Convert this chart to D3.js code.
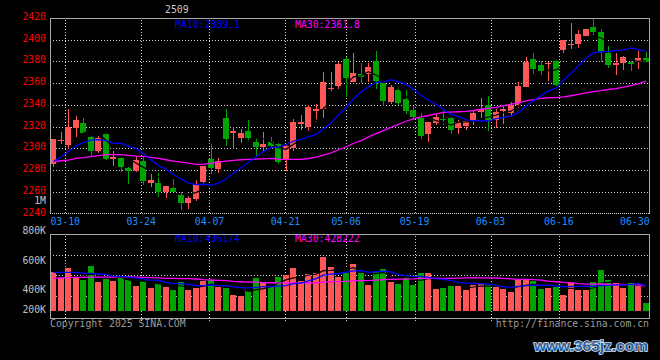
<!DOCTYPE html>
<html><head><meta charset="utf-8">
<script src="https://cdn.jsdelivr.net/npm/d3@7"></script>
<style>html,body{margin:0;padding:0;background:#000;} svg{display:block;}</style>
</head><body>
<script>
// ---------- DATA ----------
const dates = ["03-06","03-07","03-10","03-11","03-12","03-13","03-14","03-17","03-18","03-19","03-20","03-21",
"03-24","03-25","03-26","03-27","03-28","03-31","04-01","04-02","04-03","04-07","04-08","04-09","04-10","04-11",
"04-14","04-15","04-16","04-17","04-18","04-21","04-22","04-23","04-24","04-25","04-28","04-29","04-30",
"05-06","05-07","05-08","05-09","05-12","05-13","05-14","05-15","05-16","05-19","05-20","05-21","05-22","05-23",
"05-26","05-27","05-28","05-29","05-30","06-03","06-04","06-05","06-06","06-09","06-10","06-11","06-12","06-13",
"06-16","06-17","06-18","06-19","06-20","06-23","06-24","06-25","06-26","06-27","06-30","07-01","07-02"];
const open  = [2285.2,2307,2302.8,2318.8,2323,2310.4,2297.2,2312.9,2290,2291.4,2281.5,2279,2288,2268,2267.7,2260.3,2263.7,2257.5,2249.5,2253.2,
2269,2289.8,2280.6,2327.7,2314,2309.2,2315.7,2305.5,2301,2305.5,2304.3,2289,2300.6,2322.4,2319.7,2334.4,2335.7,2354.2,2357.5,2382,
2361.2,2368.6,2368,2380.3,2359.7,2342.2,2353.5,2344.9,2335.4,2328.3,2313.5,2323.4,2327.4,2327.7,2319.1,2320.6,2324.9,2333.8,2339.7,2325.8,
2334.2,2332.9,2339.7,2356.6,2382.2,2376.6,2377.5,2380.6,2390.5,2395.1,2396,2403.4,2411.7,2407.1,2388,2377,2378.8,2379.4,2379.4,2382.8];
const high  = [2308.8,2315.4,2336,2329.5,2327.7,2311,2311.4,2313.5,2298,2292,2283,2293.3,2293,2276,2277,2265.8,2271.4,2260,2256.3,2270.5,
2284,2303.7,2290.8,2336,2320,2317.5,2325.8,2309.8,2314.8,2310,2305,2303,2326.8,2330.5,2339.7,2340.6,2370,2370,2379.4,2384.3,
2388,2378.5,2378.5,2389.5,2359.7,2357.9,2356.3,2353.5,2339.1,2332.6,2324.6,2331.4,2334.2,2328.9,2326.5,2325.5,2335.1,2345.9,2348,2336.6,
2339.7,2342.2,2361,2384,2387.7,2380,2379,2381.5,2400,2415.4,2408.6,2410,2419.5,2409.8,2394.2,2388,2384.9,2381,2389.8,2388.9];
const low   = [2282.7,2304,2299.7,2310.4,2314,2293.2,2296,2289,2283.4,2278,2267,2278,2266.5,2264.3,2255,2254,2259.7,2243.4,2244.5,2252,
2268,2276.3,2277.2,2301.8,2299.7,2305.3,2305.9,2292,2297.8,2300,2286,2279,2298,2316.6,2316,2324.3,2328.3,2352.6,2355,2346.8,
2361,2359.7,2361.2,2355,2339.1,2341.2,2339.7,2331.4,2326.5,2308.9,2305.8,2321,2321.8,2312.9,2313.2,2317.2,2321.8,2328.3,2316,2318.8,
2322.8,2329,2337,2356,2368.6,2367.4,2362,2357.2,2388,2391,2392,2403,2404.3,2379.7,2373.5,2367.4,2372,2371,2372.9,2379];
const close = [2308.3,2308,2319.7,2325.8,2314,2298,2309.5,2290,2292,2282.5,2279,2289,2270,2270.8,2260.3,2265.8,2259.7,2249.5,2254,2267.4,
2283.4,2281.5,2288,2308.3,2316,2313.8,2309.5,2301,2303.7,2301.8,2287,2302,2324.3,2324.3,2337.8,2336,2361,2355.7,2377.5,2365,
2369.5,2365.8,2374.8,2361.8,2343.4,2356.3,2341.5,2334.5,2328.6,2311.4,2324,2328.9,2325.8,2317.2,2324.6,2325.2,2332.6,2335.7,2325.8,2333.5,
2336,2339.7,2357.2,2379.7,2372.9,2371.4,2378.5,2358.2,2399.7,2396,2405.2,2409.8,2407.4,2389,2376.6,2378.5,2384,2377.5,2383.1,2379.7];
// volume in thousands
const volumeK = [566,507,609,507,491,629,471,501,481,514,491,432,481,412,461,422,393,471,393,412,
481,491,422,412,343,334,383,511,461,432,520,540,609,481,550,560,717,619,520,557,
652,557,442,570,599,471,452,517,442,560,560,402,412,432,432,393,442,452,442,422,
402,373,491,501,478,402,412,422,343,461,393,393,471,589,491,458,412,461,429,265];
// moving averages before enough history is on the chart
const priceMA10Early = [2288,2292,2297,2302,2305.5,2307.5,2308,2307,2304.5];
const priceMA30Early = [2287.7,2288.6,2289.2,2290.8,2291.4,2292.3,2293.2,2294.2,2294.2,2294.2,2293.5,2292.9,2292.6,2291.7,2290.8,
2289.5,2288.3,2287.4,2286.5,2285.2,2285.2,2286.5,2287.4,2288.3,2289,2289.5,2289.8,2290,2290.3];
const volMA10Early = [566,566,566,566,557,557,550,547,530];
const volMA30Early = [507,511,514,517,517,520,520,520,520,524,524,520,517,514,511,507,507,504,504,501,494,491,488,484,478,474,471,471,465];
const dateTicks = ["03-10","03-24","04-07","04-21","05-06","05-19","06-03","06-16","06-30"];
const priceTicks = [2420,2400,2380,2360,2340,2320,2300,2280,2260,2240];
const volTickLabels = ["800K","600K","400K","200K"];
const titleText = "2509";
const unitText = "1M";
const priceMALabels = ["MA10:2389.1","MA30:2361.8"];
const volMALabels = ["MA10:436174","MA30:428222"];
const footerLeft = "Copyright 2025 SINA.COM";
const footerRight = "http://finance.sina.com.cn";
const watermark = "www.365jz.com";

// ---------- CHART ----------
const W=660,H=360;
const mono = "'DejaVu Sans Mono','Liberation Mono',monospace";
const UP="#ff5757", DOWN="#00a300", GRID="#d8d8d8", FRAME="#a8a8a8";
const svg = d3.select("body").append("svg").attr("width",W).attr("height",H).style("background","#000");

const L=50, R=650;
const pTop=17.8, pBot=213.6;
const vTop=234.3, vBase=310.7, vBot=318.3;
const x  = d3.scaleBand().domain(dates).range([L,R]).paddingInner(0).paddingOuter(0);
const xg = d3.scalePoint().domain(dates).range([L,R]);
const yP = d3.scaleLinear().domain([2240,2420]).range([pBot,pTop]);
const yV = d3.scaleLinear().domain([189,800]).range([vBase,248.6]);

const data = dates.map((d,i)=>({d,i,o:open[i],h:high[i],l:low[i],c:close[i],v:volumeK[i]}));
const col = d=> d.c>=d.o ? UP : DOWN;
const bx = d=> Math.round(x(d.d));

function movingAvg(vals,n,early){
  return vals.map((v,i)=> i<n-1 ? (early?early[i]:null) : d3.mean(vals.slice(i-n+1,i+1)));
}
const ma5  = movingAvg(close,5,null), ma10 = movingAvg(close,10,priceMA10Early), ma30 = movingAvg(close,30,priceMA30Early);
const vma5 = movingAvg(volumeK,5,null), vma10 = movingAvg(volumeK,10,volMA10Early), vma30 = movingAvg(volumeK,30,volMA30Early);

// grid
const g = svg.append("g").attr("shape-rendering","crispEdges");
priceTicks.filter(t=>t>2240 && t<2420).forEach(t=>{
  const yy=Math.round(yP(t))+0.5;
  g.append("line").attr("x1",L).attr("x2",R-1).attr("y1",yy).attr("y2",yy)
   .attr("stroke",GRID).attr("stroke-dasharray","1,2");
});
d3.range(1,4).forEach(k=>{
  const yy=Math.round(vTop+k*20.4)+0.5;
  g.append("line").attr("x1",L).attr("x2",R-1).attr("y1",yy).attr("y2",yy)
   .attr("stroke",GRID).attr("stroke-dasharray","1,2");
});
dateTicks.slice(0,-1).forEach(t=>{
  const xx=Math.round(xg(t))+0.5;
  g.append("line").attr("x1",xx).attr("x2",xx).attr("y1",pTop+2).attr("y2",pBot)
   .attr("stroke",GRID).attr("stroke-dasharray","1,2");
  g.append("line").attr("x1",xx).attr("x2",xx).attr("y1",vTop+2).attr("y2",vBot+4)
   .attr("stroke",GRID).attr("stroke-dasharray","1,2");
});

// candles
const cg = svg.append("g").attr("shape-rendering","crispEdges");
cg.selectAll(".wick").data(data).join("rect")
  .attr("x",d=>bx(d)+3).attr("width",1)
  .attr("y",d=>Math.round(yP(d.h))).attr("height",d=>Math.max(1,Math.round(yP(d.l))-Math.round(yP(d.h))))
  .attr("fill",col);
cg.selectAll(".body").data(data).join("rect")
  .attr("x",d=>bx(d)).attr("width",6)
  .attr("y",d=>Math.round(yP(Math.max(d.o,d.c))))
  .attr("height",d=>Math.max(1,Math.round(yP(Math.min(d.o,d.c)))-Math.round(yP(Math.max(d.o,d.c)))))
  .attr("fill",col);

// volume bars
cg.selectAll(".vol").data(data).join("rect")
  .attr("x",d=>bx(d)).attr("width",6)
  .attr("y",d=>Math.round(yV(d.v))).attr("height",d=>Math.round(vBase)-Math.round(yV(d.v)))
  .attr("fill",col);

// MA lines
function drawLine(vals,yScale,color,w){
  const line=d3.line().defined(v=>v!=null).x((v,i)=>x(dates[i])+3.5).y(v=>yScale(v));
  svg.append("path").datum(vals).attr("d",line).attr("fill","none").attr("stroke",color).attr("stroke-width",w);
}
drawLine(ma5,yP,"#000",1.2);
drawLine(ma30,yP,"#ff00ff",1.3);
drawLine(ma10,yP,"#0000ff",1.3);
drawLine(vma5,yV,"#000",1.2);
drawLine(vma30,yV,"#ff00ff",1.3);
drawLine(vma10,yV,"#0000ff",1.3);

// texts inside panels
const txt=(s,xx,yy,fill,anchor,size)=>svg.append("text").text(s).attr("x",xx).attr("y",yy)
  .attr("fill",fill).attr("text-anchor",anchor||"start").attr("font-family",mono).attr("font-size",size||9.8);
txt(priceMALabels[0],175,27.5,"#0000ff");
txt(priceMALabels[1],295,27.5,"#ff00ff");
txt(volMALabels[0],175,241.7,"#0000ff");
txt(volMALabels[1],295,241.7,"#ff00ff");

// frames
const fg = svg.append("g").attr("shape-rendering","crispEdges").attr("stroke",FRAME).attr("fill","none");
fg.append("path").attr("d",`M${L+0.5},${pBot}V18.5H649.5V${pBot}`);
fg.append("line").attr("x1",L).attr("x2",650).attr("y1",213.5).attr("y2",213.5).attr("stroke",GRID).attr("stroke-dasharray","1,1");
fg.append("rect").attr("x",L+0.5).attr("y",234.5).attr("width",599).attr("height",84);

// axis labels
priceTicks.forEach(t=>txt(t,46,Math.round(yP(t))+2,"#ff0000","end"));
txt(unitText,46,204.3,"#c0c0c0","end");
const volLabelBaselines=[234,264,293.3,313];
volTickLabels.forEach((t,k)=>txt(t,46,volLabelBaselines[k],"#c0c0c0","end"));
dateTicks.forEach(t=>txt(t,xg(t),225.3,"#1e8fff","middle"));
txt(titleText,165,13.3,"#c8c8c8");
txt(footerLeft,50,327.3,"#9a9a9a");
txt(footerRight,649,327.3,"#9a9a9a","end");

// watermark
svg.append("text").text(watermark).attr("x",534).attr("y",351)
  .attr("font-family","'Liberation Sans',Arial,sans-serif").attr("font-weight","bold").attr("font-size",15.5)
  .attr("fill","#2d5f9e").attr("stroke","#dfe8f2").attr("stroke-width",1.6).attr("paint-order","stroke");
</script>
</body></html>
